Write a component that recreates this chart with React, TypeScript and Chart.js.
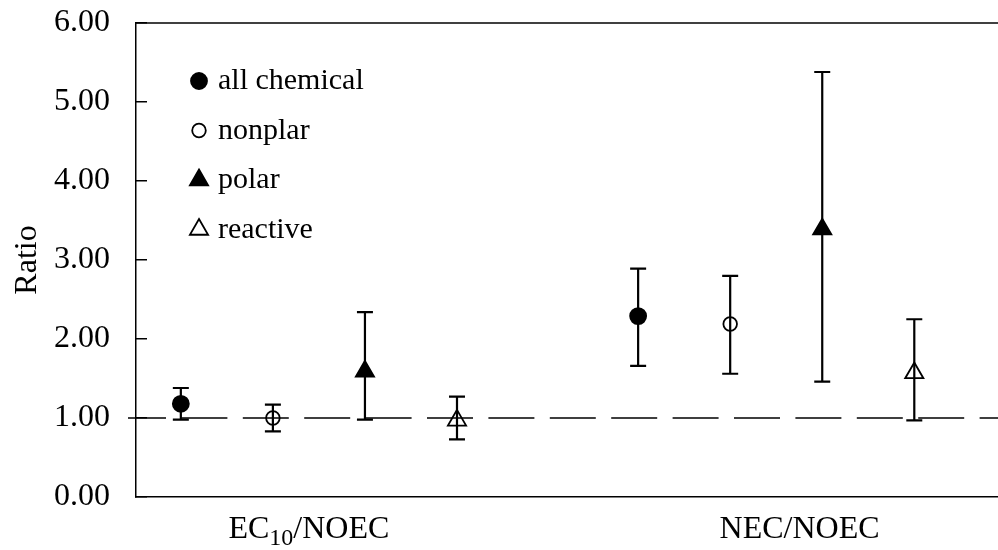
import { useEffect, useRef } from 'react';
import { Chart, registerables } from 'chart.js';

Chart.register(...registerables);

// Ratio categories along the horizontal axis
const categories = ['EC10/NOEC', 'NEC/NOEC'];
// Where each category caption is centred (category units)
const categoryLabelX = [-0.022, 1.051];

// Chemical groups
const seriesNames = ['all chemical', 'nonplar', 'polar', 'reactive'];

// Mean ratio and the lower / upper ends of the error bars, per category
const allChemicalMean = [1.18, 2.29];
const allChemicalLow = [0.98, 1.66];
const allChemicalHigh = [1.38, 2.89];

const nonpolarMean = [1.0, 2.19];
const nonpolarLow = [0.83, 1.56];
const nonpolarHigh = [1.17, 2.8];

const polarMean = [1.59, 3.39];
const polarLow = [0.98, 1.46];
const polarHigh = [2.34, 5.38];

const reactiveMean = [0.97, 1.57];
const reactiveLow = [0.73, 0.97];
const reactiveHigh = [1.27, 2.25];

const yTicks = [0, 1, 2, 3, 4, 5, 6];
const referenceRatio = 1;

const means = [allChemicalMean, nonpolarMean, polarMean, reactiveMean];
const lows = [allChemicalLow, nonpolarLow, polarLow, reactiveLow];
const highs = [allChemicalHigh, nonpolarHigh, polarHigh, reactiveHigh];

const FONT = '"Liberation Serif", "Times New Roman", Times, serif';
const seriesStep = 0.2013;

type MarkerStyle = { shape: 'circle' | 'triangle'; filled: boolean; radius: number };
const markerStyles: MarkerStyle[] = [
  { shape: 'circle', filled: true, radius: 8 },
  { shape: 'circle', filled: false, radius: 6.8 },
  { shape: 'triangle', filled: true, radius: 10.5 },
  { shape: 'triangle', filled: false, radius: 10.5 },
];

function drawMarker(ctx: CanvasRenderingContext2D, m: MarkerStyle, x: number, y: number) {
  ctx.save();
  ctx.beginPath();
  if (m.shape === 'circle') {
    ctx.arc(x, y, m.radius, 0, Math.PI * 2);
  } else {
    const r = m.radius;
    ctx.moveTo(x, y - r);
    ctx.lineTo(x + r * Math.sin((2 * Math.PI) / 3), y + r / 2);
    ctx.lineTo(x - r * Math.sin((2 * Math.PI) / 3), y + r / 2);
    ctx.closePath();
  }
  ctx.lineWidth = 1.8;
  ctx.strokeStyle = '#000';
  if (m.filled) {
    ctx.fillStyle = '#000';
    ctx.fill();
  }
  ctx.stroke();
  ctx.restore();
}

const decorPlugin = {
  id: 'ratioDecor',
  beforeDatasetsDraw(chart: any) {
    const { ctx, chartArea: a, scales } = chart;
    const y = scales.y;
    ctx.save();
    ctx.strokeStyle = '#000';

    // frame line along the top of the plot
    ctx.lineWidth = 1.5;
    ctx.beginPath();
    ctx.moveTo(a.left, a.top);
    ctx.lineTo(a.right, a.top);
    ctx.stroke();

    // dashed reference line at ratio = 1
    const yr = y.getPixelForValue(referenceRatio);
    ctx.setLineDash([46, 15.4]);
    ctx.lineDashOffset = 8;
    ctx.lineWidth = 1.4;
    ctx.beginPath();
    ctx.moveTo(a.left - 8, yr);
    ctx.lineTo(a.right, yr);
    ctx.stroke();
    ctx.setLineDash([]);

    // error bars with caps
    ctx.lineWidth = 2.2;
    chart.data.datasets.forEach((ds: any, i: number) => {
      const meta = chart.getDatasetMeta(i);
      meta.data.forEach((pt: any, j: number) => {
        const lo = y.getPixelForValue(ds.errLow[j]);
        const hi = y.getPixelForValue(ds.errHigh[j]);
        ctx.beginPath();
        ctx.moveTo(pt.x, lo);
        ctx.lineTo(pt.x, hi);
        ctx.moveTo(pt.x - 8, lo);
        ctx.lineTo(pt.x + 8, lo);
        ctx.moveTo(pt.x - 8, hi);
        ctx.lineTo(pt.x + 8, hi);
        ctx.stroke();
      });
    });
    ctx.restore();
  },
  afterDraw(chart: any) {
    const { ctx, chartArea: a, scales } = chart;
    const x = scales.x;
    ctx.save();
    ctx.fillStyle = '#000';

    // legend inside the plot, upper left
    const lx = a.left + 63;
    const ly0 = a.top + 58;
    const rowGap = 49.5;
    ctx.font = `30px ${FONT}`;
    ctx.textAlign = 'left';
    ctx.textBaseline = 'alphabetic';
    seriesNames.forEach((name, i) => {
      const ly = ly0 + i * rowGap;
      drawMarker(ctx, markerStyles[i], lx, ly);
      ctx.fillStyle = '#000';
      ctx.fillText(name, lx + 19, ly + 8);
    });

    // category captions; digits that follow letters are set as subscripts
    const baseY = a.bottom + 41;
    categories.forEach((label, i) => {
      const runs = label.match(/\d+|\D+/g) || [];
      const parts = runs.map((t) => ({ t, sub: /^\d+$/.test(t) }));
      const widthOf = (p: { t: string; sub: boolean }) => {
        ctx.font = p.sub ? `24px ${FONT}` : `32px ${FONT}`;
        return ctx.measureText(p.t).width;
      };
      const total = parts.reduce((s, p) => s + widthOf(p), 0);
      let cx = x.getPixelForValue(categoryLabelX[i]) - total / 2;
      parts.forEach((p) => {
        const w = widthOf(p);
        ctx.fillText(p.t, cx, p.sub ? baseY + 7 : baseY);
        cx += w;
      });
    });
    ctx.restore();
  },
};

export default function App() {
  const canvasRef = useRef<HTMLCanvasElement | null>(null);

  useEffect(() => {
    const canvas = canvasRef.current;
    if (!canvas) return;

    const datasets = seriesNames.map((name, s) => {
      const m = markerStyles[s];
      return {
        label: name,
        data: means[s].map((v, c) => ({ x: c + (s - 1.5) * seriesStep, y: v })),
        errLow: lows[s],
        errHigh: highs[s],
        pointStyle: m.shape,
        pointRadius: m.radius,
        pointHoverRadius: m.radius,
        pointBorderWidth: 1.8,
        backgroundColor: m.filled ? '#000' : 'rgba(0,0,0,0)',
        borderColor: '#000',
        showLine: false,
      };
    });

    const chart = new Chart(canvas, {
      type: 'scatter',
      data: { datasets: datasets as any },
      options: {
        responsive: false,
        animation: false,
        devicePixelRatio: 1,
        layout: { autoPadding: false, padding: { top: 23, right: 0, bottom: 0, left: 0 } },
        plugins: {
          legend: { display: false },
          tooltip: { enabled: false },
        },
        scales: {
          x: {
            type: 'linear',
            min: -0.4,
            max: 1.485,
            ticks: { display: false },
            grid: { display: false },
            border: { display: true, color: '#000', width: 1.5 },
            afterFit: (scale: any) => {
              scale.height = 53;
              scale.paddingLeft = 0;
              scale.paddingRight = 0;
            },
          },
          y: {
            type: 'linear',
            min: yTicks[0],
            max: yTicks[yTicks.length - 1],
            afterBuildTicks: (scale: any) => {
              scale.ticks = yTicks.map((v) => ({ value: v }));
            },
            ticks: {
              color: '#000',
              font: { family: FONT, size: 32 },
              padding: 37,
              callback: (v: any) => Number(v).toFixed(2),
            },
            grid: {
              drawOnChartArea: false,
              drawTicks: true,
              tickLength: -11,
              color: '#000',
              lineWidth: 1.5,
            },
            border: { display: true, color: '#000', width: 1.5 },
            title: {
              display: true,
              text: 'Ratio',
              color: '#000',
              font: { family: FONT, size: 32 },
              padding: { top: 8, bottom: 0 },
            },
            afterFit: (scale: any) => {
              scale.width = 136;
              scale.paddingTop = 0;
              scale.paddingBottom = 0;
            },
          },
        },
      } as any,
      plugins: [decorPlugin],
    });

    return () => chart.destroy();
  }, []);

  return (
    <div style={{ position: 'absolute', left: 0, top: 0, width: 998, height: 550, background: '#fff' }}>
      <canvas ref={canvasRef} width={998} height={550} />
    </div>
  );
}
